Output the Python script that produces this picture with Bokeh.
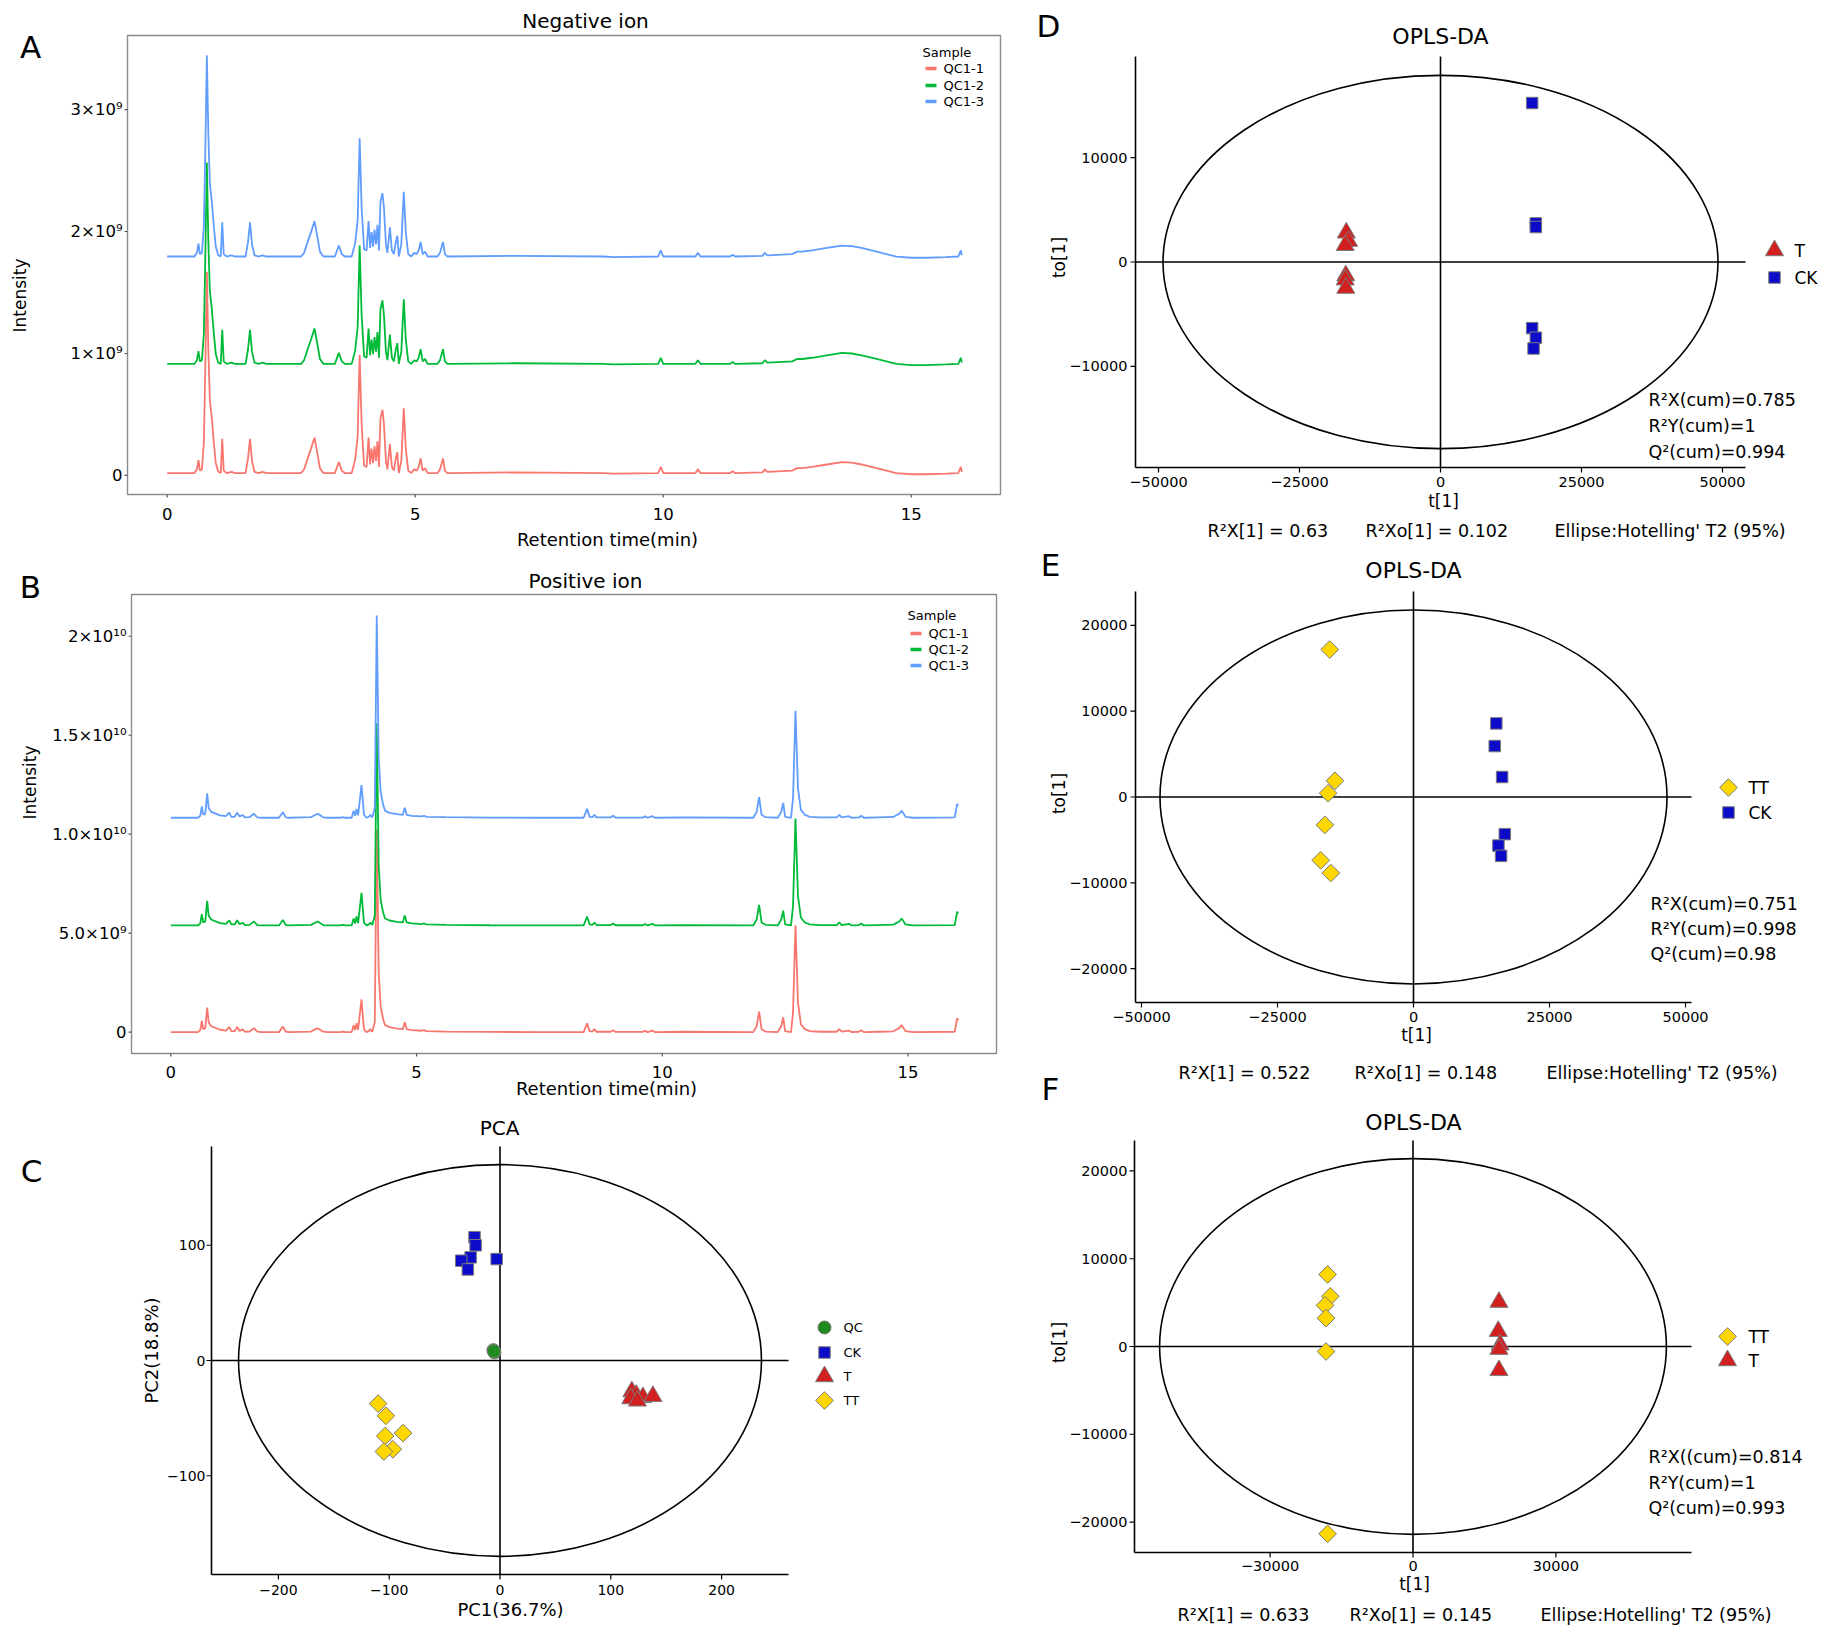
import numpy as np
from bokeh.plotting import figure
from bokeh.models import Range1d, Label
from bokeh.layouts import row, column
from bokeh.embed import file_html
from bokeh.resources import INLINE

FONT = "DejaVu Sans"

# ------------------------------------------------------------------ data
samples = ["QC1-1", "QC1-2", "QC1-3"]
sample_colors = ["#F8766D", "#00BA38", "#619CFF"]

# Negative ion chromatogram: retention time (min) and intensity above each trace's baseline (x1e9)
neg_time = [0.00, 0.55, 0.60, 0.63, 0.66, 0.70, 0.74, 0.77, 0.80, 0.83, 0.86, 0.90, 0.94, 0.98,
            1.03, 1.08, 1.11, 1.14, 1.20, 1.30, 1.36, 1.58, 1.63, 1.67, 1.71, 1.76, 1.85, 1.92,
            2.00, 2.70, 2.76, 2.84, 2.90, 2.97, 3.02, 3.08, 3.15, 3.38, 3.46, 3.52, 3.58, 3.72,
            3.79, 3.84, 3.88, 3.92, 3.97, 4.02, 4.06, 4.09, 4.12, 4.15, 4.18, 4.21, 4.24, 4.27,
            4.30, 4.34, 4.37, 4.41, 4.44, 4.49, 4.53, 4.57, 4.61, 4.64, 4.67, 4.72, 4.77, 4.81,
            4.86, 4.92, 4.98, 5.03, 5.07, 5.11, 5.15, 5.20, 5.25, 5.45, 5.50, 5.56, 5.60, 5.65,
            7.00, 8.80, 9.00, 9.90, 9.95, 10.00, 10.65, 10.70, 10.75, 11.35, 11.40, 11.45, 12.00,
            12.05, 12.10, 12.60, 12.70, 12.80, 13.00, 13.30, 13.60, 13.80, 14.00, 14.30, 14.50,
            14.70, 15.00, 15.30, 15.70, 15.95, 16.00, 16.02]
neg_height_e9 = [0.00, 0.00, 0.03, 0.105, 0.02, 0.03, 0.25, 0.90, 1.65, 1.00, 0.60, 0.45, 0.25, 0.08,
                 0.01, 0.00, 0.28, 0.02, 0.00, 0.01, 0.00, 0.00, 0.12, 0.28, 0.10, 0.01, 0.00, 0.01,
                 0.00, 0.00, 0.03, 0.13, 0.20, 0.29, 0.18, 0.04, 0.00, 0.00, 0.09, 0.02, 0.00, 0.00,
                 0.11, 0.30, 0.97, 0.40, 0.06, 0.05, 0.29, 0.07, 0.20, 0.08, 0.22, 0.10, 0.26, 0.05,
                 0.45, 0.52, 0.40, 0.10, 0.03, 0.24, 0.05, 0.02, 0.12, 0.17, 0.00, 0.10, 0.53, 0.20,
                 0.02, 0.00, 0.03, 0.02, 0.05, 0.12, 0.02, 0.04, 0.00, 0.00, 0.03, 0.12, 0.02, 0.00,
                 0.005, 0.00, -0.005, 0.00, 0.05, 0.00, 0.00, 0.03, 0.00, 0.00, 0.015, 0.00, 0.005,
                 0.03, 0.01, 0.02, 0.04, 0.04, 0.05, 0.07, 0.09, 0.085, 0.07, 0.04, 0.02,
                 0.00, -0.01, -0.01, -0.005, 0.00, 0.05, 0.01]
neg_offset_e9 = [0.02, 0.915, 1.795]

# Positive ion chromatogram (x1e9)
pos_time = [0.00, 0.55, 0.60, 0.63, 0.66, 0.70, 0.74, 0.77, 0.82, 0.90, 1.00, 1.12, 1.19, 1.23,
            1.30, 1.35, 1.40, 1.46, 1.51, 1.60, 1.69, 1.76, 1.85, 2.20, 2.28, 2.34, 2.40, 2.85,
            2.99, 3.10, 3.20, 3.45, 3.50, 3.55, 3.68, 3.72, 3.75, 3.78, 3.81, 3.88, 3.93, 3.98,
            4.03, 4.06, 4.10, 4.15, 4.19, 4.23, 4.27, 4.32, 4.36, 4.45, 4.60, 4.72, 4.76, 4.80,
            4.90, 5.10, 5.15, 5.20, 5.60, 6.50, 7.50, 8.40, 8.47, 8.52, 8.58, 8.62, 8.66, 8.95,
            9.00, 9.05, 9.60, 9.65, 9.70, 9.80, 9.85, 10.40, 11.85, 11.92, 11.97, 12.02, 12.10,
            12.35, 12.42, 12.46, 12.50, 12.62, 12.66, 12.71, 12.76, 12.82, 12.90, 13.00, 13.20,
            13.55, 13.60, 13.65, 13.80, 13.85, 14.00, 14.05, 14.10, 14.40, 14.70, 14.82, 14.87,
            14.95, 15.10, 15.95, 16.00, 16.02]
pos_height_e9 = [0.00, 0.00, 0.10, 0.57, 0.15, 0.20, 1.24, 0.50, 0.30, 0.22, 0.12, 0.08, 0.26, 0.05,
                 0.05, 0.26, 0.06, 0.14, 0.02, 0.03, 0.20, 0.02, 0.00, 0.00, 0.28, 0.02, 0.00, 0.03,
                 0.20, 0.02, 0.00, 0.00, 0.03, 0.00, 0.00, 0.35, 0.10, 0.45, 0.12, 1.65, 0.15, 0.00,
                 0.05, 0.15, 0.02, 0.50, 10.22, 3.00, 1.30, 0.65, 0.35, 0.25, 0.18, 0.15, 0.50, 0.15,
                 0.10, 0.07, 0.10, 0.05, 0.03, 0.01, 0.00, 0.00, 0.45, 0.05, 0.03, 0.15, 0.02, 0.02,
                 0.10, 0.01, 0.01, 0.07, 0.00, 0.08, 0.00, 0.02, 0.00, 0.30, 1.04, 0.15, 0.03,
                 0.00, 0.30, 0.75, 0.05, 0.00, 1.00, 5.40, 1.50, 0.40, 0.15, 0.05, 0.02,
                 0.02, 0.15, 0.02, 0.08, 0.00, 0.02, 0.10, 0.00, 0.02, 0.04, 0.20, 0.35,
                 0.05, 0.00, 0.02, 0.70, 0.60]
pos_offset_e9 = [0.0, 5.39, 10.83]

rt_ticks = [0, 5, 10, 15]
neg_yticks = [0, 1e9, 2e9, 3e9]
neg_ytick_labels = ["0", "1×10⁹", "2×10⁹", "3×10⁹"]
pos_yticks = [0, 5e9, 1e10, 1.5e10, 2e10]
pos_ytick_labels = ["0", "5.0×10⁹", "1.0×10¹⁰", "1.5×10¹⁰", "2×10¹⁰"]

group_colors = {"QC": "#1E8B1E", "CK": "#0B0BC8", "T": "#D21F1F", "TT": "#FFD700"}

# PCA scores
pca_qc_x = [-6, -5, -5.5]
pca_qc_y = [9, 7, 8]
pca_ck_x = [-23, -22, -26.5, -35, -29, -3]
pca_ck_y = [107, 100, 89.5, 86.6, 79, 88]
pca_t_x = [119, 123, 129, 138, 118, 124]
pca_t_y = [-27, -30, -32, -31, -33, -35]
pca_tt_x = [-110, -103, -87.5, -103.6, -96.7, -104.8]
pca_tt_y = [-37.4, -48, -63, -65.5, -77, -79]
pca_ellipse = [236, 170]

# OPLS-DA  T vs CK
d_t_x = [-16700, -16300, -16900, -16800, -16900, -16800]
d_t_y = [2800, 2000, 1600, -1300, -1700, -2500]
d_ck_x = [16250, 16900, 16900, 16250, 16900, 16500]
d_ck_y = [15240, 3700, 3350, -6340, -7260, -8290]
d_ellipse = [49200, 17900]
d_stats = ["R²X(cum)=0.785", "R²Y(cum)=1", "Q²(cum)=0.994"]
d_caption = ["R²X[1]  =  0.63", "R²Xo[1]  =  0.102", "Ellipse:Hotelling' T2 (95%)"]

# OPLS-DA  TT vs CK
e_tt_x = [-15400, -14430, -15700, -16290, -17060, -15200]
e_tt_y = [17190, 1890, 440, -3250, -7380, -8860]
e_ck_x = [15220, 14930, 16290, 16780, 15610, 16100]
e_ck_y = [8580, 5940, 2330, -4330, -5660, -6860]
e_ellipse = [46600, 21800]
e_stats = ["R²X(cum)=0.751", "R²Y(cum)=0.998", "Q²(cum)=0.98"]
e_caption = ["R²X[1]  =  0.522", "R²Xo[1]  =  0.148", "Ellipse:Hotelling' T2 (95%)"]

# OPLS-DA  TT vs T
f_tt_x = [-17930, -17360, -18470, -18260, -18260, -17930]
f_tt_y = [8210, 5710, 4690, 3230, -570, -21340]
f_t_x = [18050, 17900, 18300, 18050, 18050]
f_t_y = [5060, 1740, 200, -300, -2720]
f_ellipse = [53200, 21400]
f_stats = ["R²X((cum)=0.814", "R²Y(cum)=1", "Q²(cum)=0.993"]
f_caption = ["R²X[1]  =  0.633", "R²Xo[1]  =  0.145", "Ellipse:Hotelling' T2 (95%)"]

opls_xticks_wide = [-50000, -25000, 0, 25000, 50000]
opls_xticks_f = [-30000, 0, 30000]
opls_yticks_d = [-10000, 0, 10000]
opls_yticks = [-20000, -10000, 0, 10000, 20000]
pca_xticks = [-200, -100, 0, 100, 200]
pca_yticks = [-100, 0, 100]


# ------------------------------------------------------------------ helpers
def make_panel(ox, oy, W, H, fl, ft, fw, fh, xr, yr):
    """A figure whose plotting frame is the whole panel; the axes box (fl, ft, fw, fh)
    in page pixels carries the data ranges xr, yr."""
    sx = (xr[1] - xr[0]) / fw
    sy = (yr[1] - yr[0]) / fh
    P = dict(fl=fl, ft=ft, fw=fw, fh=fh, xr=xr, yr=yr, sx=sx, sy=sy)
    p = figure(width=W, height=H,
               x_range=Range1d(xr[0] - (fl - ox) * sx, xr[1] + (ox + W - fl - fw) * sx),
               y_range=Range1d(yr[0] - (oy + H - ft - fh) * sy, yr[1] + (ft - oy) * sy),
               x_axis_type=None, y_axis_type=None, min_border=0, title=None,
               output_backend="svg", toolbar_location=None)
    p.outline_line_color = None
    p.background_fill_color = "white"
    p.border_fill_color = "white"
    return p, P


def px(P, X, Y):
    return P["xr"][0] + (X - P["fl"]) * P["sx"], P["yr"][1] - (Y - P["ft"]) * P["sy"]


def add_text(p, x, y, s, size, align="left", baseline="middle", angle=0.0, color="black"):
    p.add_layout(Label(x=x, y=y, text=s, text_font=FONT, text_font_size=size,
                       text_align=align, text_baseline=baseline, angle=angle,
                       text_color=color))


def text_px(p, P, X, Y, s, size, align="left", baseline="middle", angle=0.0):
    x, y = px(P, X, Y)
    add_text(p, x, y, s, size, align, baseline, angle)


def x_axis(p, P, ticks, labels, tick_len, label_Y, size, tick_color, line=False):
    x0, x1 = P["xr"]
    y0 = P["yr"][0]
    if line:
        p.segment(x0=[x0], y0=[y0], x1=[x1], y1=[y0], line_color="black", line_width=1.6)
    p.segment(x0=ticks, y0=[y0] * len(ticks), x1=ticks,
              y1=[y0 - tick_len * P["sy"]] * len(ticks), line_color=tick_color, line_width=1.2)
    ly = px(P, 0, label_Y)[1]
    for t, s in zip(ticks, labels):
        add_text(p, t, ly, s, size, align="center")


def y_axis(p, P, ticks, labels, tick_len, label_X, size, tick_color, line=False):
    y0, y1 = P["yr"]
    x0 = P["xr"][0]
    if line:
        p.segment(x0=[x0], y0=[y0], x1=[x0], y1=[y1], line_color="black", line_width=1.6)
    p.segment(x0=[x0] * len(ticks), y0=ticks, x1=[x0 - tick_len * P["sx"]] * len(ticks),
              y1=ticks, line_color=tick_color, line_width=1.2)
    lx = px(P, label_X, 0)[0]
    for t, s in zip(ticks, labels):
        add_text(p, lx, t, s, size, align="right")


def num_label(v):
    return ("−" if v < 0 else "") + str(abs(int(v)))


def pts(p, x, y, group, marker):
    kw = dict(fill_color=group_colors[group], line_color="#7A7A7A", line_width=1)
    if marker == "diamond":
        return p.scatter(x, y, marker="square", angle=np.pi / 4, size=12.5, **kw)
    if marker == "triangle":
        return p.scatter(x, y, marker="triangle", size=18, **kw)
    if marker == "square":
        return p.scatter(x, y, marker="square", size=11.5, **kw)
    return p.scatter(x, y, marker="circle", size=13, **kw)


# ------------------------------------------------------------------ chromatograms
def chrom_panel(geom, title, titleXY, letter, letterXY, time, heights, offsets,
                yticks, ylabels, ylab_right, xlab_Y, xtitleXY, ytitleXY, legend_geom):
    p, P = make_panel(*geom)
    x0, x1 = P["xr"]
    y0, y1 = P["yr"]
    p.quad(left=[x0], right=[x1], bottom=[y0], top=[y1], fill_color=None,
           line_color="#8C8C8C", line_width=1.4)
    for s, c, off in zip(samples, sample_colors, offsets):
        p.line(time, [(h + off) * 1e9 for h in heights], line_color=c, line_width=1.8)
    x_axis(p, P, rt_ticks, [str(t) for t in rt_ticks], 3, xlab_Y, "16.5px", "#555555")
    y_axis(p, P, yticks, ylabels, 3, ylab_right, "16.5px", "#555555")
    text_px(p, P, titleXY[0], titleXY[1], title, "20px", align="center")
    text_px(p, P, letterXY[0], letterXY[1], letter, "31px", align="center")
    text_px(p, P, xtitleXY[0], xtitleXY[1], "Retention time(min)", "18px", align="center")
    text_px(p, P, ytitleXY[0], ytitleXY[1], "Intensity", "17px", align="center",
            angle=np.pi / 2)
    # legend
    gx0, gx1, lab_X, title_Y, item_Y = legend_geom
    text_px(p, P, gx0 - 3, title_Y, "Sample", "13px")
    for s, c, yy in zip(samples, sample_colors, item_Y):
        a, b = px(P, gx0, yy)
        e, _ = px(P, gx1, yy)
        p.segment(x0=[a], y0=[b], x1=[e], y1=[b], line_color=c, line_width=3.5)
        text_px(p, P, lab_X, yy, s, "13px")
    return p


pA = chrom_panel((0, 0, 1020, 555, 127, 35, 873, 459, (-0.8, 16.8), (-0.156e9, 3.607e9)),
                 "Negative ion", (585, 20), "A", (30, 46), neg_time, neg_height_e9,
                 neg_offset_e9, neg_yticks, neg_ytick_labels, 122, 513, (607, 539), (19, 295),
                 (925, 936, 943, 52, [68, 85, 101]))

pB = chrom_panel((0, 555, 1020, 550, 131, 594, 865, 459, (-0.8, 16.8), (-1.08e9, 22.11e9)),
                 "Positive ion", (585, 580), "B", (30, 586), pos_time, pos_height_e9,
                 pos_offset_e9, pos_yticks, pos_ytick_labels, 126, 1071, (606, 1088), (29, 782),
                 (910, 921, 928, 615, [633, 649, 665]))


# ------------------------------------------------------------------ score plots
def score_base(geom, title, titleXY, title_size, letter, letterXY, xticks, yticks, xt_Y, yt_X,
               tick_size, ellipse, xlabel, xlabXY, ylabel, ylabXY, lab_size):
    p, P = make_panel(*geom)
    x0, x1 = P["xr"]
    y0, y1 = P["yr"]
    p.segment(x0=[x0, 0], y0=[0, y0], x1=[x1, 0], y1=[0, y1], line_color="black",
              line_width=1.6)
    p.ellipse(x=[0], y=[0], width=[2 * ellipse[0]], height=[2 * ellipse[1]],
              fill_color=None, line_color="black", line_width=1.6)
    x_axis(p, P, xticks, [num_label(t) for t in xticks], 5, xt_Y, tick_size, "black", True)
    y_axis(p, P, yticks, [num_label(t) for t in yticks], 5, yt_X, tick_size, "black", True)
    text_px(p, P, titleXY[0], titleXY[1], title, title_size, align="center")
    if letter is not None:
        text_px(p, P, letterXY[0], letterXY[1], letter, "31px", align="center")
    text_px(p, P, xlabXY[0], xlabXY[1], xlabel, lab_size, align="center")
    text_px(p, P, ylabXY[0], ylabXY[1], ylabel, lab_size, align="center", angle=np.pi / 2)
    return p, P


def legend_items(p, P, entries, glyph_X, label_X, Ys, size):
    for (name, marker), yy in zip(entries, Ys):
        x, y = px(P, glyph_X, yy)
        pts(p, [x], [y], name, marker)
        text_px(p, P, label_X, yy, name, size)


# C: PCA
pC, PC = score_base((0, 1105, 1020, 527, 211, 1146, 577, 428, (-260.4, 260.4), (-185.7, 185.7)),
                    "PCA", (499, 1127), "20px", "C", (31, 1170), pca_xticks, pca_yticks,
                    1589, 205, "14px", pca_ellipse, "PC1(36.7%)", (510, 1609),
                    "PC2(18.8%)", (151, 1350), "18px")
pts(pC, pca_qc_x, pca_qc_y, "QC", "circle")
pts(pC, pca_ck_x, pca_ck_y, "CK", "square")
pts(pC, pca_t_x, pca_t_y, "T", "triangle")
pts(pC, pca_tt_x, pca_tt_y, "TT", "diamond")
legend_items(pC, PC, [("QC", "circle"), ("CK", "square"), ("T", "triangle"), ("TT", "diamond")],
             824, 843, [1327, 1352, 1376, 1400], "13px")


def opls_panel(geom, titleXY, letter, letterXY, xticks, yticks, xt_Y, ellipse, xlabXY, ylabXY,
               stats, statsX, statsY, caption, capX, capY):
    p, P = score_base(geom, "OPLS-DA", titleXY, "22px", letter, letterXY, xticks, yticks,
                      xt_Y, 1127, "14.5px", ellipse, "t[1]", xlabXY, "to[1]", ylabXY, "17px")
    for s, yy in zip(stats, statsY):
        text_px(p, P, statsX, yy, s, "17.5px")
    for c, xx in zip(caption, capX):
        text_px(p, P, xx, capY, c, "17.5px")
    return p, P


pD, PD = opls_panel((1020, 0, 808, 545, 1135, 56, 610, 411, (-54080, 54080), (-19700, 19700)),
                    (1440, 36), "D", (1048, 25), opls_xticks_wide, opls_yticks_d, 481, d_ellipse,
                    (1443, 500), (1058, 257), d_stats, 1648, [399, 425, 451],
                    d_caption, [1207, 1365, 1554], 530)
pts(pD, d_t_x, d_t_y, "T", "triangle")
pts(pD, d_ck_x, d_ck_y, "CK", "square")
legend_items(pD, PD, [("T", "triangle"), ("CK", "square")], 1774, 1794, [250, 277], "17px")

pE, PE = opls_panel((1020, 545, 808, 563, 1135, 591, 556, 411, (-51100, 51100), (-23950, 23950)),
                    (1413, 570), "E", (1050, 564), opls_xticks_wide, opls_yticks, 1016, e_ellipse,
                    (1416, 1034), (1058, 793), e_stats, 1650, [903, 928, 953],
                    e_caption, [1178, 1354, 1546], 1072)
pts(pE, e_tt_x, e_tt_y, "TT", "diamond")
pts(pE, e_ck_x, e_ck_y, "CK", "square")
legend_items(pE, PE, [("TT", "diamond"), ("CK", "square")], 1728, 1748, [787, 812], "17px")
# the letter of panel F sits above the F figure's top edge, so it is drawn here
text_px(pE, PE, 1050, 1088, "F", "31px", align="center")

pF, PF = opls_panel((1020, 1108, 808, 524, 1134, 1140, 557, 412, (-58470, 58470), (-23470, 23470)),
                    (1413, 1122), None, None, opls_xticks_f, opls_yticks, 1565, f_ellipse,
                    (1414, 1583), (1058, 1342), f_stats, 1648, [1456, 1482, 1507],
                    f_caption, [1177, 1349, 1540], 1614)
pts(pF, f_tt_x, f_tt_y, "TT", "diamond")
pts(pF, f_t_x, f_t_y, "T", "triangle")
legend_items(pF, PF, [("TT", "diamond"), ("T", "triangle")], 1727, 1748, [1336, 1360], "17px")

layout = row(column(pA, pB, pC), column(pD, pE, pF))
open("out.html", "w").write(file_html(layout, INLINE))
